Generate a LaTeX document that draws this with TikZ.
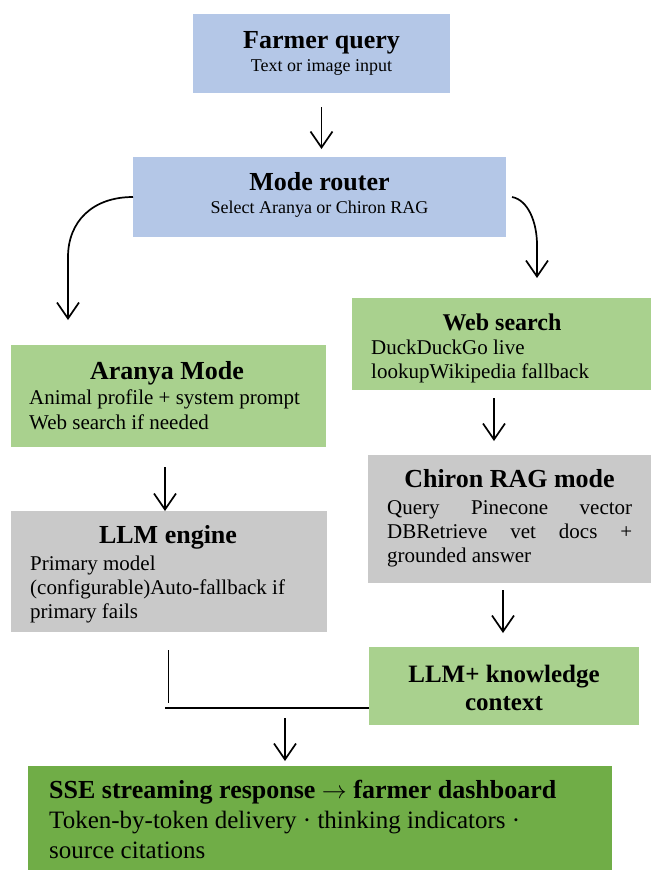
\documentclass[tikz,border=0pt]{standalone}
\usepackage{fontspec}
\setmainfont{Liberation Serif}
\usetikzlibrary{arrows.meta,calc}
\definecolor{blueF}{HTML}{B4C7E7}
\definecolor{greenF}{HTML}{A9D18E}
\definecolor{greyF}{HTML}{C9C9C9}
\definecolor{darkF}{HTML}{70AD47}
\begin{document}
\begin{tikzpicture}[x=1pt,y=-1pt,
  boxst/.style={draw=none,inner sep=0pt,outer sep=0pt},
  ttl/.style={inner sep=0pt,anchor=base,font=\fontsize{26}{30}\selectfont\bfseries},
  sub/.style={inner sep=0pt,anchor=base,font=\fontsize{18}{21}\selectfont},
  body/.style={inner sep=0pt,anchor=base west,font=\fontsize{21}{24}\selectfont},
  sbody/.style={inner sep=0pt,anchor=base west,font=\fontsize{25}{30}\selectfont},
  arr/.style={line width=1.7pt,-{Straight Barb[length=16pt,width=22pt,line width=1.7pt]}}]
\useasboundingbox (0,0) rectangle (651,871);
% boxes
\node[boxst,fill=blueF,minimum width=257pt,minimum height=79pt] (fq) at (321.5,53.5) {};
\node[boxst,fill=blueF,minimum width=373pt,minimum height=80pt] (rt) at (319.5,197) {};
\node[boxst,fill=greenF,minimum width=299pt,minimum height=92pt] (ws) at (501.5,344) {};
\node[boxst,fill=greenF,minimum width=315pt,minimum height=102pt] (ar) at (168.5,396) {};
\node[boxst,fill=greyF,minimum width=283pt,minimum height=128pt] (ch) at (509.5,519) {};
\node[boxst,fill=greyF,minimum width=316pt,minimum height=121pt] (llm) at (169,571.5) {};
\node[boxst,fill=greenF,minimum width=270pt,minimum height=78pt] (lk) at (504,686) {};
\node[boxst,fill=darkF,minimum width=584pt,minimum height=104pt] (sse) at (320,818) {};
% texts
\node[ttl] (fqt) at (321.5,48) {Farmer query};
\node[sub] (fqs) at (321.5,71) {Text or image input};
\node[ttl] (rtt) at (319.5,190) {Mode router};
\node[sub] (rts) at (319.5,213) {Select Aranya or Chiron RAG};
\node[ttl,font=\fontsize{24}{28}\selectfont\bfseries] (wst) at (502,330) {Web search};
\node[body] (ws1) at (371,354) {DuckDuckGo live};
\node[body] (ws2) at (371,378) {lookupWikipedia fallback};
\node[ttl] (art) at (167,379) {Aranya Mode};
\node[body] (ar1) at (29,404) {Animal profile + system prompt};
\node[body] (ar2) at (29,429) {Web search if needed};
\node[ttl] (cht) at (509.5,487) {Chiron RAG mode};
\node[body] (ch1) at (387,514) {\hbox to 245pt{Query\hfill Pinecone\hfill vector}};
\node[body] (ch2) at (387,538) {\hbox to 245pt{DBRetrieve\hfill vet\hfill docs\hfill +}};
\node[body] (ch3) at (387,562) {grounded answer};
\node[ttl] (llmt) at (168,543) {LLM engine};
\node[body] (llm1) at (30,570) {Primary model};
\node[body] (llm2) at (30,594) {(configurable)Auto-fallback if};
\node[body] (llm3) at (30,618) {primary fails};
\node[ttl,font=\fontsize{25}{29}\selectfont\bfseries] (lkt) at (504,682) {LLM+ knowledge};
\node[ttl,font=\fontsize{25}{29}\selectfont\bfseries] (lkc) at (504,710) {context};
\node[ttl,anchor=base west] (sset) at (49,798) {SSE streaming response $\rightarrow$ farmer dashboard};
\node[sbody] (sse1) at (49,828) {Token-by-token delivery · thinking indicators ·};
\node[sbody] (sse2) at (49,858) {source citations};
% connectors
\coordinate (rl) at (133,197);
\coordinate (rr) at (512,197);
\draw[arr] ($(fq.south)+(0,14)$) -- ($(fq.south |- rt.north)+(0,-8)$);
\draw[arr] (rl) .. controls (92,197) and (68,222) .. (68,257) -- (68,320);
\draw[arr] (rr) .. controls (528,200) and (537,222) .. (537,245) -- (537,278);
\draw[arr] (494,398) -- (494,441);
\draw[arr] (165,467) -- (165,511);
\draw[arr] (503,590) -- (503,633);
\coordinate (vl1) at (168,650);
\coordinate (vl2) at (168,703);
\coordinate (hl1) at (165,708);
\coordinate (hl2) at (lk.west |- hl1);
\draw[line width=0.9pt] (vl1) -- (vl2);
\draw[line width=2pt] (hl1) -- (hl2);
\draw[arr] (285,718) -- ($(sse.north -| 285,0)+(0,-5)$);
\end{tikzpicture}
\end{document}
